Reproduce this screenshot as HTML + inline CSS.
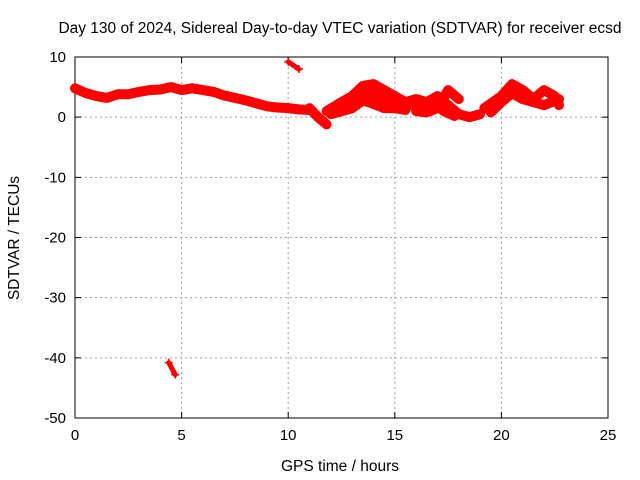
<!DOCTYPE html>
<html><head><meta charset="utf-8"><style>
body{margin:0;background:#fff;}
svg{display:block;font-family:"Liberation Sans",sans-serif;}
</style></head><body>
<svg id="chart" width="640" height="480">
<rect width="640" height="480" fill="#fff"/>
<text x="340" y="33" font-size="15.5" text-anchor="middle">Day 130 of 2024, Sidereal Day-to-day VTEC variation (SDTVAR) for receiver ecsd</text>
<g id="grid"></g><g id="axes"></g><g id="marks"></g>
<text x="340" y="471" font-size="15.5" text-anchor="middle">GPS time / hours</text>
<text x="19" y="238" font-size="15.5" text-anchor="middle" transform="rotate(-90 19 238)">SDTVAR / TECUs</text>
</svg>
<script>
const xTicks=[0,5,10,15,20,25];
const yTicks=[10,0,-10,-20,-30,-40,-50];
const trackTimes=[
[0,0.5,1,1.5,2,2.5,3,3.5,4,4.5,5,5.5],
[5.5,6,6.5,7,7.5,8,8.5,9,9.5,10,10.5,11],
[11,11.4,11.8],
[10,10.5],
[4.4,4.7],
[11.8,12.5,13,13.5,14,14.5,15,15.5],
[12,12.5,13,13.5,14,14.5,15,15.5],
[12.2,12.7,13.2,13.6,14,14.4,14.8,15.2],
[15.5,16,16.5,17,17.5,18,18.5,19],
[16,16.5,17,17.5,18],
[15.8,16.3,16.8,17.3,17.8],
[19.2,19.6,20,20.5,21,21.5,22,22.5,22.7],
[19.5,20,20.5,21,21.5,22,22.7]
];
const trackValues=[
[4.8,4,3.5,3.2,3.8,3.8,4.2,4.5,4.6,5,4.5,4.8],
[4.8,4.5,4.2,3.6,3.2,2.8,2.3,1.8,1.6,1.5,1.3,1.2],
[1.5,0,-1.2],
[9.2,8],
[-40.8,-42.8],
[1,2.5,3.5,5.2,5.5,4.5,3.5,2.5],
[0.5,1,1.5,2.8,2.2,1.5,1.5,1.2],
[1.5,2.2,3,4,3.8,3,2.5,2],
[2.5,3,2.5,3.5,2,0.5,0,0.5],
[1,0.8,1.5,4.5,3],
[2,1.8,2.5,1,0.2],
[1.5,2.5,3.5,5.5,4.5,3,4.5,3.5,2],
[0.8,2.5,4,3,2.5,2,3]
];
const X0=75,X1=608,Y0=57,Y1=418;
const sx=t=>X0+(t-0)/(25-0)*(X1-X0);
const sy=v=>Y0+(10-v)/(10-(-50))*(Y1-Y0);
const NS="http://www.w3.org/2000/svg";
const grid=document.getElementById('grid'),axes=document.getElementById('axes'),marks=document.getElementById('marks');
function mk(tag,attrs,parent){const e=document.createElementNS(NS,tag);for(const k in attrs)e.setAttribute(k,attrs[k]);parent.appendChild(e);return e;}
xTicks.forEach(t=>{
 const x=sx(t);
 if(t>0&&t<25){const g=mk('line',{x1:x,x2:x,y1:Y0,y2:Y1,stroke:'#a0a0a0','stroke-dasharray':'2,3'},grid);
 
 }
 const tk=mk('path',{d:`M${x},${Y1}v-6M${x},${Y0}v6`,stroke:'#000'},axes);
 
 
 const l=mk('text',{x:x,y:Y1+22,'font-size':15,'text-anchor':'middle'},axes);l.textContent=t;
 
 
});
yTicks.forEach(v=>{
 const y=sy(v);
 if(v<10&&v>-50){const g=mk('line',{x1:X0,x2:X1,y1:y,y2:y,stroke:'#a0a0a0','stroke-dasharray':'2,3'},grid);
 
 }
 const tk=mk('path',{d:`M${X0},${y}h6M${X1},${y}h-6`,stroke:'#000'},axes);
 
 
 const l=mk('text',{x:X0-9,y:y+5,'font-size':15,'text-anchor':'end'},axes);l.textContent=v;
 
 
});
const fr=mk('rect',{x:X0,y:Y0,width:X1-X0,height:Y1-Y0,fill:'none',stroke:'#000'},axes);


trackTimes.forEach((ts,i)=>{
 const vs=trackValues[i];
 const pts=ts.map((t,j)=>sx(t)+','+sy(vs[j])).join(' ');
 const pl=mk('polyline',{points:pts,fill:'none',stroke:'#ff0000','stroke-width':i===4||i===3?5:10,'stroke-linejoin':'round','stroke-linecap':'round'},marks);
 
 
 ts.forEach((t,j)=>{
  const x=sx(t),y=sy(vs[j]);
  const p=mk('path',{d:`M${x-4},${y}h8M${x},${y-4}v8`,stroke:'#ff0000','stroke-width':1.5},marks);
  
  
 });
});
</script>
</body></html>
